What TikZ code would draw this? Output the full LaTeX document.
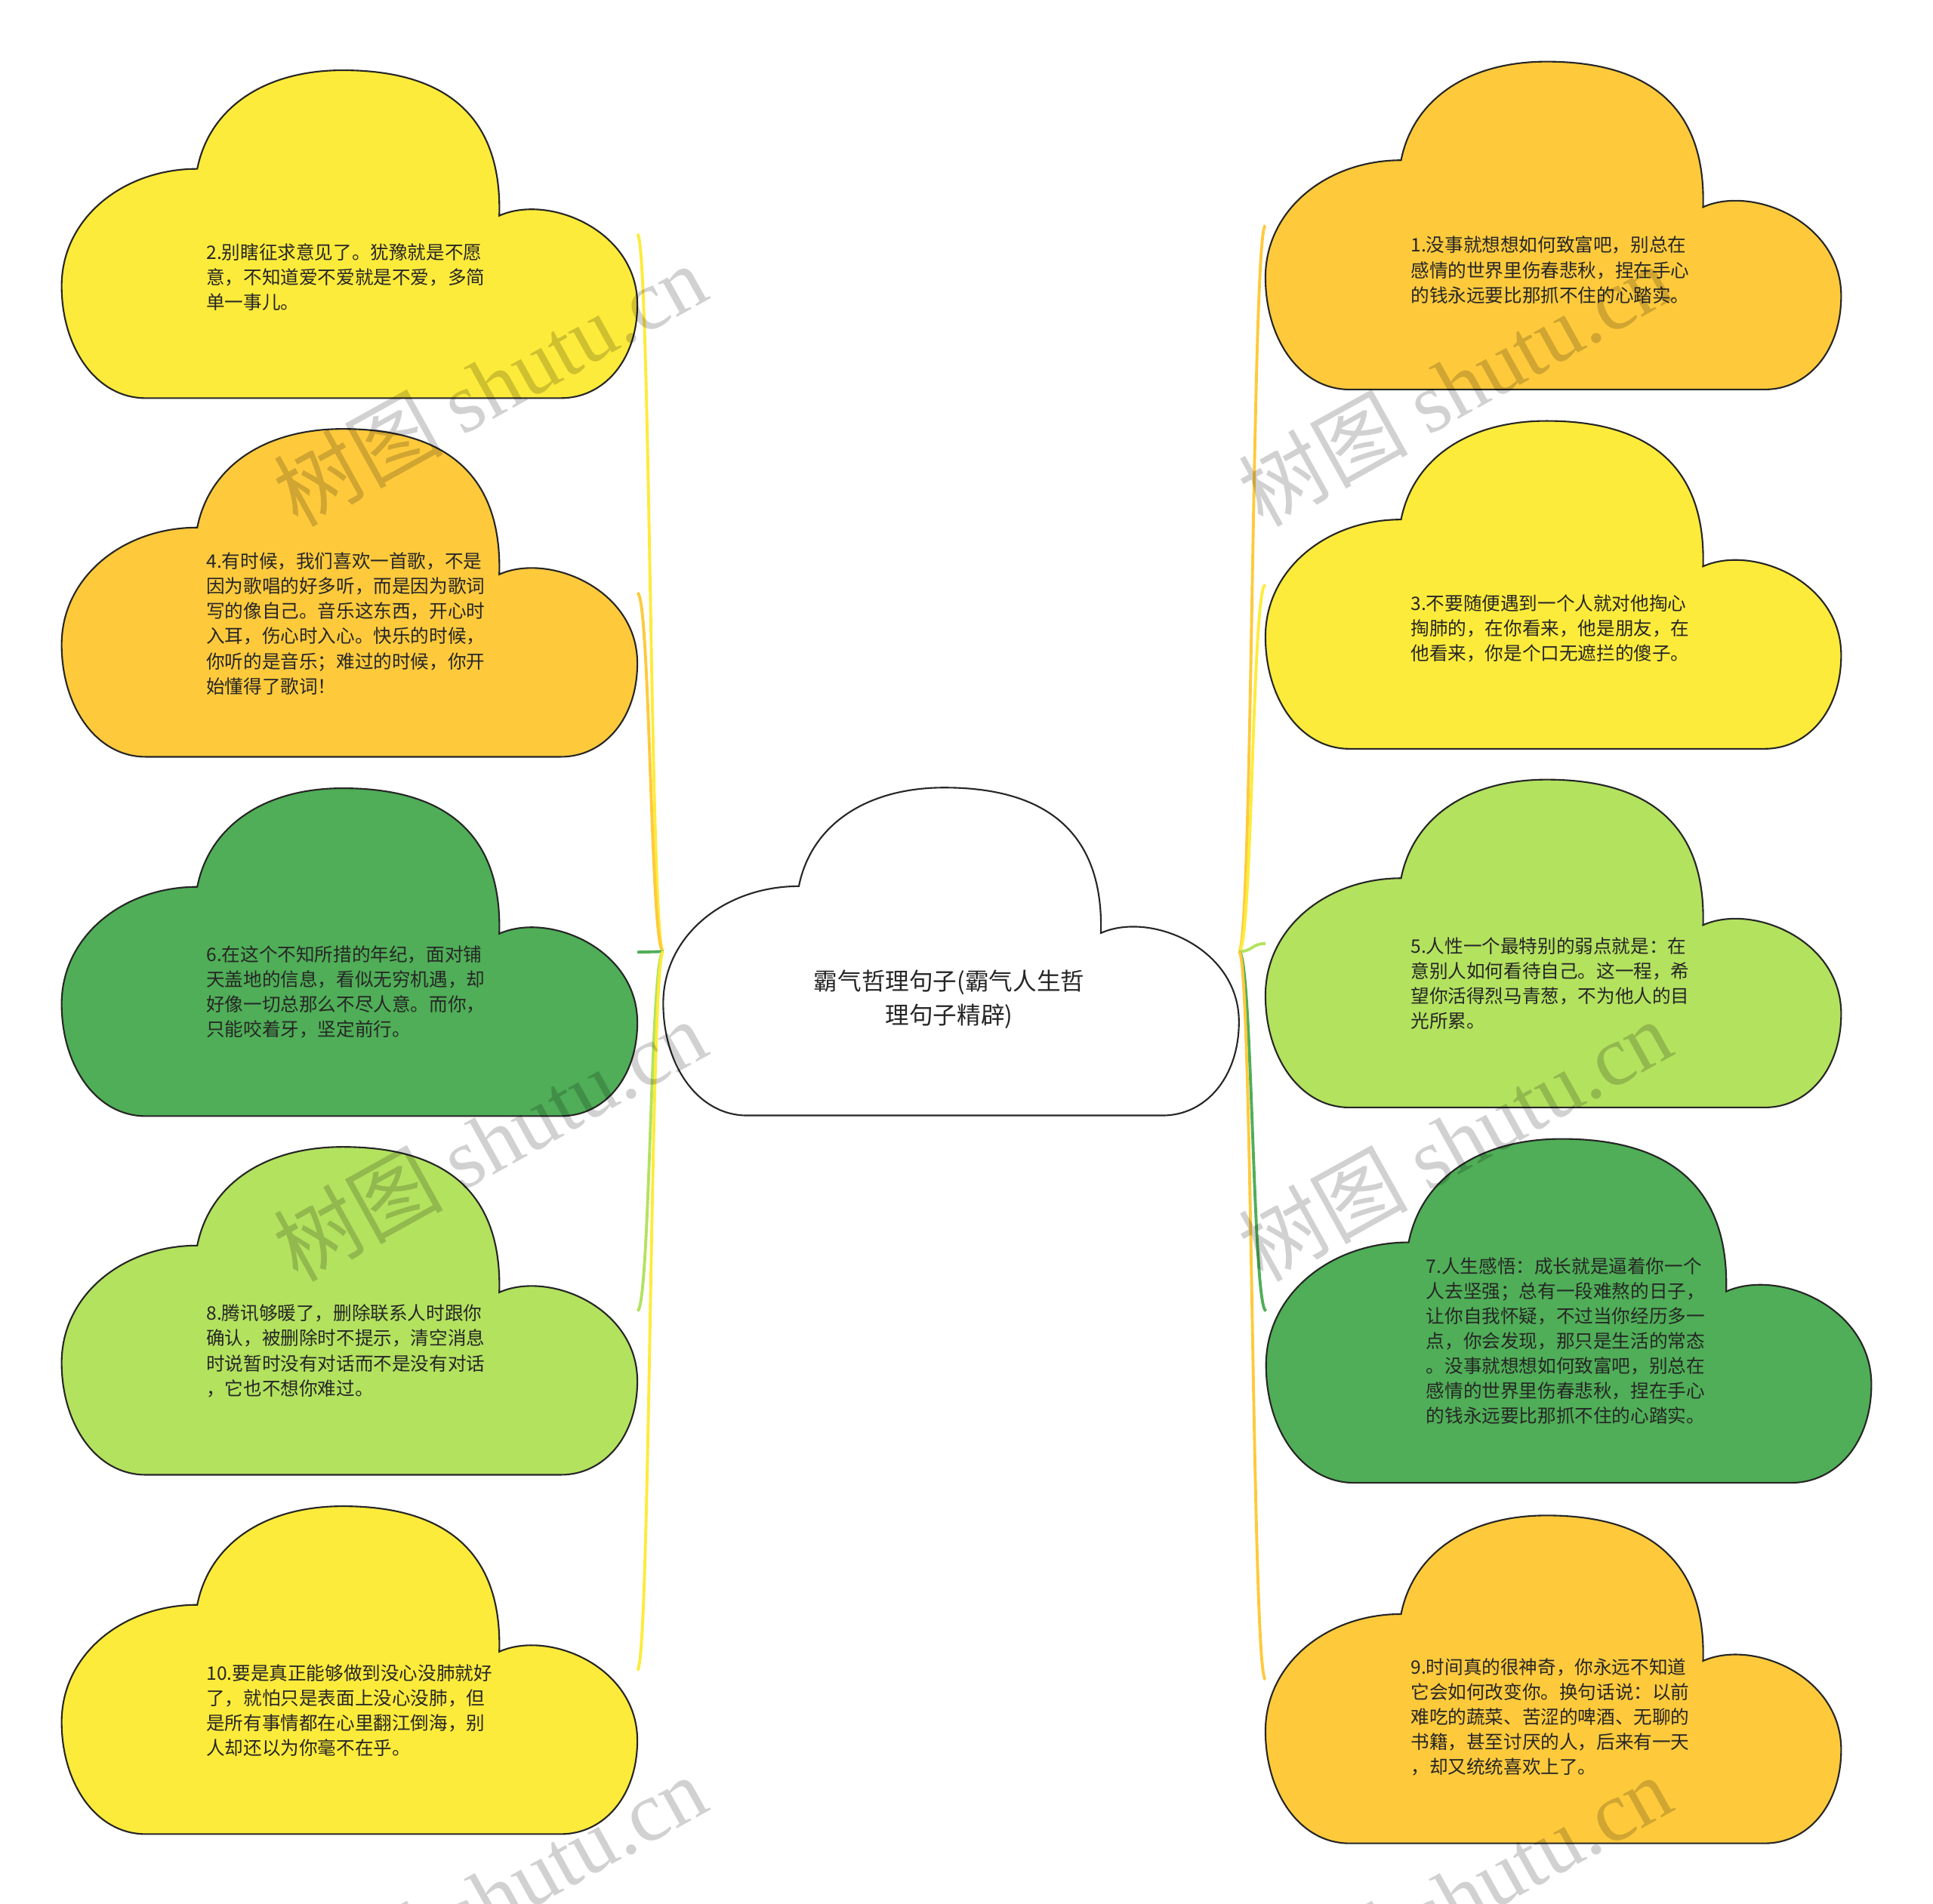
\documentclass[tikz,border=0pt]{standalone}
\usepackage{fontspec}
\setmainfont{Noto Sans CJK SC}
\newfontfamily\cjkfont{Noto Sans CJK SC}
\newfontfamily\wmlatin{Liberation Serif}
\newlength\pxu
\setlength\pxu{0.016327cm}
\definecolor{yel}{HTML}{FDEB3B}
\definecolor{org}{HTML}{FECA3C}
\definecolor{grn}{HTML}{4FAE57}
\definecolor{lgrn}{HTML}{B3E25F}
\definecolor{txt}{HTML}{262626}
\newcommand\drawcloud[4]{%
  \begin{scope}[shift={(#1.north west)},xscale=#3,yscale=#4]
    \path[cloudline,fill=#2] (110,80) .. controls (120,30) and (165,0) .. (228,0)
      .. controls (325,0) and (357,50) .. (355,118)
      .. controls (395,100) and (467,130) .. (467,190)
      .. controls (467,235) and (440,266) .. (405,266)
      -- (68,266) .. controls (28,266) and (0,225) .. (0,175)
      .. controls (0,120) and (50,80) .. (110,80) -- cycle;
  \end{scope}}
\begin{document}
\begin{tikzpicture}[x=0.016327cm,y=-0.016327cm,
  cloudline/.style={draw=black!85,line width=0.6pt},
  cloudbox/.style={draw=none,rectangle,inner sep=0pt,outer sep=0pt,minimum width=467\pxu,minimum height=266\pxu},
  bodytext/.style={font=\fontsize{7}{9.4}\selectfont,text=txt,align=left,inner sep=0pt,anchor=west},
  centertext/.style={font=\fontsize{9}{12.8}\selectfont,text=txt,align=center,inner sep=0pt},
  conn/.style={line width=1.1pt},
  wm/.style={font=\fontsize{32}{36}\selectfont,text=black,text opacity=0.18,inner sep=0pt,rotate=29}]
\useasboundingbox (0,0) rectangle (1568,1544.7);
\clip (0,0) rectangle (1568,1544.7);
% boxes
\node[cloudbox] (c2) at (283.5,190) {};
\node[cloudbox] (c4) at (283.5,481) {};
\node[cloudbox] (c6) at (283.5,772.5) {};
\node[cloudbox] (c8) at (283.5,1063.5) {};
\node[cloudbox] (c10) at (283.5,1355) {};
\node[cloudbox] (c1) at (1260,183) {};
\node[cloudbox] (c3) at (1260,474.5) {};
\node[cloudbox] (c5) at (1260,765.5) {};
\node[cloudbox,minimum width=491\pxu,minimum height=279\pxu] (c7) at (1272.5,1063.5) {};
\node[cloudbox] (c9) at (1260,1362.5) {};
\node[cloudbox] (ctr) at (771.5,772) {};
% cloud shapes
\drawcloud{c2}{yel}{1}{1}
\drawcloud{c4}{org}{1}{1}
\drawcloud{c6}{grn}{1}{1}
\drawcloud{c8}{lgrn}{1}{1}
\drawcloud{c10}{yel}{1}{1}
\drawcloud{c1}{org}{1}{1}
\drawcloud{c3}{yel}{1}{1}
\drawcloud{c5}{lgrn}{1}{1}
\drawcloud{c7}{grn}{1.0514}{1.0489}
\drawcloud{c9}{org}{1}{1}
\drawcloud{ctr}{white}{1}{1}
% connectors
\draw[conn,draw=yel] (ctr.west) .. controls +(-10.5,0) and +(10.5,0) .. (c2.east);
\draw[conn,draw=org] (ctr.west) .. controls +(-10.5,0) and +(10.5,0) .. (c4.east);
\draw[conn,draw=grn] (ctr.west) -- (c6.east);
\draw[conn,draw=lgrn] (ctr.west) .. controls +(-10.5,0) and +(10.5,0) .. (c8.east);
\draw[conn,draw=yel] (ctr.west) .. controls +(-10.5,0) and +(10.5,0) .. (c10.east);
\draw[conn,draw=org] (ctr.east) .. controls +(11,0) and +(-11,0) .. (c1.west);
\draw[conn,draw=yel] (ctr.east) .. controls +(11,0) and +(-11,0) .. (c3.west);
\draw[conn,draw=lgrn] (ctr.east) .. controls +(11,0) and +(-11,0) .. (c5.west);
\draw[conn,draw=grn] (ctr.east) .. controls +(11,0) and +(-11,0) .. (c7.west);
\draw[conn,draw=org] (ctr.east) .. controls +(11,0) and +(-11,0) .. (c9.west);
% texts
\node[centertext] (tc) at (770,811) {霸气哲理句子(霸气人生哲\\理句子精辟)};
\node[bodytext] (t2) at (167,225) {2.别瞎征求意见了。犹豫就是不愿\\意，不知道爱不爱就是不爱，多简\\单一事儿。};
\node[bodytext] (t4) at (167,506) {4.有时候，我们喜欢一首歌，不是\\因为歌唱的好多听，而是因为歌词\\写的像自己。音乐这东西，开心时\\入耳，伤心时入心。快乐的时候，\\你听的是音乐；难过的时候，你开\\始懂得了歌词！};
\node[bodytext] (t6) at (167,805) {6.在这个不知所措的年纪，面对铺\\天盖地的信息，看似无穷机遇，却\\好像一切总那么不尽人意。而你，\\只能咬着牙，坚定前行。};
\node[bodytext] (t8) at (167,1096) {8.腾讯够暖了，删除联系人时跟你\\确认，被删除时不提示，清空消息\\时说暂时没有对话而不是没有对话\\，它也不想你难过。};
\node[bodytext] (t10) at (167,1388) {10.要是真正能够做到没心没肺就好\\了，就怕只是表面上没心没肺，但\\是所有事情都在心里翻江倒海，别\\人却还以为你毫不在乎。};
\node[bodytext] (t1) at (1144,219) {1.没事就想想如何致富吧，别总在\\感情的世界里伤春悲秋，捏在手心\\的钱永远要比那抓不住的心踏实。};
\node[bodytext] (t3) at (1144,510) {3.不要随便遇到一个人就对他掏心\\掏肺的，在你看来，他是朋友，在\\他看来，你是个口无遮拦的傻子。};
\node[bodytext] (t5) at (1144,798) {5.人性一个最特别的弱点就是：在\\意别人如何看待自己。这一程，希\\望你活得烈马青葱，不为他人的目\\光所累。};
\node[bodytext] (t7) at (1156.5,1088) {7.人生感悟：成长就是逼着你一个\\人去坚强；总有一段难熬的日子，\\让你自我怀疑，不过当你经历多一\\点，你会发现，那只是生活的常态\\。没事就想想如何致富吧，别总在\\感情的世界里伤春悲秋，捏在手心\\的钱永远要比那抓不住的心踏实。};
\node[bodytext] (t9) at (1144,1393) {9.时间真的很神奇，你永远不知道\\它会如何改变你。换句话说：以前\\难吃的蔬菜、苦涩的啤酒、无聊的\\书籍，甚至讨厌的人，后来有一天\\，却又统统喜欢上了。};
% watermarks
\node[wm] (w1) at (397,312) {树图 {\wmlatin shutu.cn}};
\node[wm] (w2) at (397,925) {树图 {\wmlatin shutu.cn}};
\node[wm] (w3) at (397,1538) {树图 {\wmlatin shutu.cn}};
\node[wm] (w4) at (1180,312) {树图 {\wmlatin shutu.cn}};
\node[wm] (w5) at (1180,925) {树图 {\wmlatin shutu.cn}};
\node[wm] (w6) at (1180,1538) {树图 {\wmlatin shutu.cn}};
\end{tikzpicture}
\end{document}
